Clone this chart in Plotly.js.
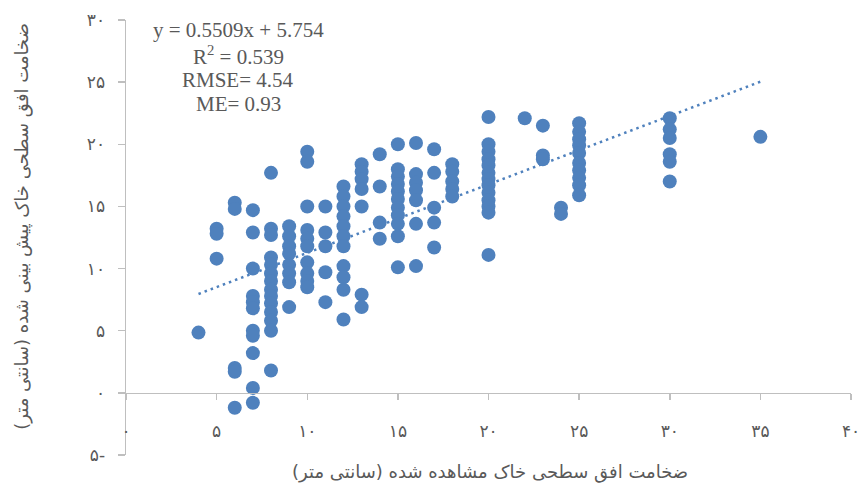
<!DOCTYPE html>
<html>
<head>
<meta charset="utf-8">
<script src="https://cdn.plot.ly/plotly-3.0.1.min.js"></script>
<style>html,body{margin:0;padding:0;background:#fff;}#chart{width:860px;height:491px;}</style>
</head>
<body>
<div id="chart"></div>
<script>
// Observed thickness (cm) and predicted thickness (cm), one list per observed value
const observed = [4, 5, 6, 7, 8, 9, 10, 11, 12, 13, 14, 15, 16, 17, 18, 20, 22, 23, 24, 25, 30, 35];
const predictedByObserved = [
  [4.85],
  [13.2, 12.8, 10.8],
  [15.3, 14.8, 2.0, 1.7, -1.2],
  [14.7, 12.9, 10.0, 7.8, 7.3, 6.8, 5.0, 4.6, 3.2, 0.4, -0.8],
  [17.7, 13.2, 12.7, 10.9, 10.3, 9.6, 9.0, 8.3, 7.8, 7.2, 6.5, 5.8, 5.0, 1.8],
  [13.4, 12.6, 11.8, 11.2, 10.3, 9.6, 8.9, 6.9],
  [19.4, 18.6, 15.0, 13.1, 12.4, 11.8, 10.5, 9.6, 9.0, 8.5],
  [15.0, 12.9, 11.8, 9.7, 7.3],
  [16.6, 15.8, 15.0, 14.2, 13.4, 12.6, 11.8, 10.2, 9.3, 8.3, 5.9],
  [18.4, 17.8, 17.2, 16.4, 15.0, 7.9, 6.9],
  [19.2, 16.6, 13.7, 12.4],
  [20.0, 18.0, 17.4, 16.8, 16.2, 15.6, 14.9, 14.3, 13.6, 12.6, 10.1],
  [20.1, 17.6, 16.9, 16.3, 15.5, 13.6, 10.2],
  [19.6, 17.7, 14.9, 13.7, 11.7],
  [18.4, 17.8, 17.0, 16.4, 15.8],
  [22.2, 20.0, 19.4, 18.8, 18.3, 17.7, 17.2, 16.7, 16.1, 15.5, 15.0, 14.5, 11.1],
  [22.1],
  [21.5, 19.1, 18.8],
  [14.9, 14.4],
  [21.7, 21.0, 20.4, 19.9, 19.3, 18.5, 17.9, 17.3, 16.7, 15.9],
  [22.1, 21.2, 20.5, 19.2, 18.6, 17.0],
  [20.6]
];

// Linear trend line
const trendSlope = 0.5509;
const trendIntercept = 5.754;
const trendRange = [4, 35];

// Tick labels
const xTickVals = [0, 5, 10, 15, 20, 25, 30, 35, 40];
const xTickText = ['۰', '۵', '۱۰', '۱۵', '۲۰', '۲۵', '۳۰', '۳۵', '۴۰'];
const yTickVals = [-5, 0, 5, 10, 15, 20, 25, 30];
const yTickText = ['۵-', '۰', '۵', '۱۰', '۱۵', '۲۰', '۲۵', '۳۰'];

const statsLines = ['y = 0.5509x + 5.754', 'R<sup>2</sup> = 0.539', 'RMSE= 4.54', 'ME= 0.93'];
const xTitle = 'ضخامت افق سطحی خاک مشاهده شده (سانتی متر)';
const yTitle = 'ضخامت افق سطحی خاک پیش بینی شده (سانتی متر)';

const px = [], py = [];
observed.forEach((o, i) => predictedByObserved[i].forEach(v => { px.push(o); py.push(v); }));

const blue = '#4f81bd';
const grey = '#595959';
const axisGrey = '#bfbfbf';

const traces = [
  {
    x: trendRange,
    y: trendRange.map(v => trendSlope * v + trendIntercept),
    mode: 'lines',
    line: {color: blue, width: 2.5, dash: '2.5px,4px'},
    hoverinfo: 'skip'
  },
  {
    x: px, y: py,
    mode: 'markers',
    marker: {color: blue, size: 14, line: {width: 0}},
  }
];

const tickFont = {family: 'DejaVu Sans, sans-serif', size: 17, color: grey};

const statsFont = {family: 'Liberation Serif, serif', size: 21, color: grey};
const statsY = [0.977, 0.9195, 0.862, 0.807];
const annotations = statsLines.map((t, i) => ({
  xref: 'paper', yref: 'paper', x: 0.1545, y: statsY[i],
  xanchor: 'center', yanchor: 'middle',
  showarrow: false, text: t, font: statsFont
}));
annotations.push(
  {
    xref: 'paper', yref: 'paper', x: 0.502, y: -0.039,
    xanchor: 'center', yanchor: 'middle',
    showarrow: false, text: xTitle,
    font: {family: 'DejaVu Sans, sans-serif', size: 18, color: grey}
  },
  {
    xref: 'paper', yref: 'paper', x: -0.1434, y: 0.525,
    xanchor: 'center', yanchor: 'middle', textangle: -90,
    showarrow: false, text: yTitle,
    font: {family: 'DejaVu Sans, sans-serif', size: 18, color: grey}
  }
);

const layout = {
  width: 860, height: 491,
  margin: {l: 126, r: 9, t: 20, b: 36},
  paper_bgcolor: '#fff', plot_bgcolor: '#fff',
  showlegend: false,
  xaxis: {
    range: [0, 40],
    tickvals: xTickVals, ticktext: xTickText,
    anchor: 'free', position: 5 / 35,
    showgrid: false, zeroline: false,
    showline: true, linecolor: axisGrey, linewidth: 1.5,
    ticks: 'outside', ticklen: 6, tickcolor: axisGrey, tickwidth: 1.5,
    ticklabelstandoff: 16,
    ticklabeloverflow: 'allow',
    tickfont: tickFont,
    fixedrange: true
  },
  yaxis: {
    range: [-5, 30],
    tickvals: yTickVals, ticktext: yTickText,
    showgrid: false, zeroline: false,
    showline: true, linecolor: axisGrey, linewidth: 1.5,
    ticks: 'outside', ticklen: 7, tickcolor: axisGrey, tickwidth: 1.5,
    ticklabelstandoff: 9,
    ticklabeloverflow: 'allow',
    tickfont: tickFont,
    fixedrange: true
  },
  annotations: annotations
};

Plotly.newPlot('chart', traces, layout, {displayModeBar: false, staticPlot: true});
</script>
</body>
</html>
